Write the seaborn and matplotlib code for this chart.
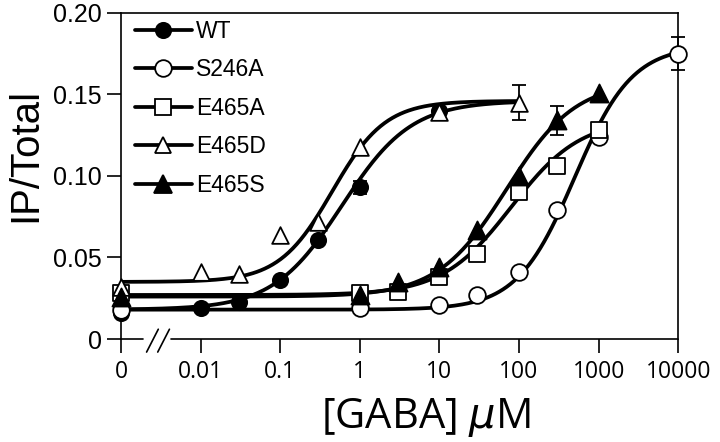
import numpy as np
import pandas as pd
import matplotlib
matplotlib.use("Agg")
import matplotlib.pyplot as plt
from matplotlib.lines import Line2D
import seaborn as sns

# concentration 0 is drawn at the 0.001 position (axis break)
ZERO_POS = 0.001

wt_x = [0, 0.01, 0.03, 0.1, 0.3, 1, 10]
wt_y = [0.016, 0.019, 0.023, 0.036, 0.061, 0.093, 0.140]
s246a_x = [0, 1, 10, 30, 100, 300, 1000, 10000]
s246a_y = [0.018, 0.019, 0.021, 0.027, 0.041, 0.079, 0.124, 0.175]
e465a_x = [0, 1, 3, 10, 30, 100, 300, 1000]
e465a_y = [0.028, 0.028, 0.029, 0.038, 0.052, 0.090, 0.106, 0.128]
e465d_x = [0, 0.01, 0.03, 0.1, 0.3, 1, 10, 100]
e465d_y = [0.032, 0.041, 0.040, 0.064, 0.072, 0.118, 0.139, 0.145]
e465s_x = [0, 1, 3, 10, 30, 100, 300, 1000]
e465s_y = [0.026, 0.027, 0.035, 0.044, 0.067, 0.100, 0.134, 0.151]

# error bars shown in the figure: (series, x, sem)
err_points = [("WT", 1, 0.004), ("E465D", 100, 0.0105),
              ("E465S", 300, 0.009), ("S246A", 10000, 0.010)]

# fitted Hill curves: bottom, top, EC50, slope
fit_params = {
    "WT": [0.018, 0.146, 0.6, 1.0],
    "S246A": [0.018, 0.180, 500, 1.2],
    "E465A": [0.027, 0.135, 80, 1.0],
    "E465D": [0.035, 0.146, 0.45, 1.3],
    "E465S": [0.026, 0.158, 70, 1.0],
}
# last concentration each fitted curve is drawn to
curve_end = {"WT": 100, "S246A": 10000, "E465A": 1000,
             "E465D": 100, "E465S": 1000}

names = ["WT", "S246A", "E465A", "E465D", "E465S"]
xs = [wt_x, s246a_x, e465a_x, e465d_x, e465s_x]
ys = [wt_y, s246a_y, e465a_y, e465d_y, e465s_y]
markers = {"WT": "o", "S246A": "o", "E465A": "s", "E465D": "^", "E465S": "^"}
faces = {"WT": "black", "S246A": "white", "E465A": "white",
         "E465D": "white", "E465S": "black"}
msize = {"WT": 11, "S246A": 12, "E465A": 11, "E465D": 12, "E465S": 13}

rows = []
for n, xv, yv in zip(names, xs, ys):
    for a, b in zip(xv, yv):
        rows.append({"mutant": n, "gaba": a if a > 0 else ZERO_POS, "ip": b})
df = pd.DataFrame(rows)

sns.set_style("ticks", {"axes.edgecolor": "black", "text.color": "black",
                        "axes.labelcolor": "black", "xtick.color": "black",
                        "ytick.color": "black"})
plt.rcParams["font.family"] = ["Liberation Sans", "DejaVu Sans"]

fig = plt.figure(figsize=(7.2, 4.42), dpi=100)
ax = fig.add_axes([0.168, 0.233, 0.774, 0.738])


def hill(x, p):
    b, t, ec, h = p
    return b + (t - b) * x ** h / (ec ** h + x ** h)


# fitted curves
for n in names:
    xx = np.logspace(np.log10(ZERO_POS), np.log10(curve_end[n]), 300)
    sns.lineplot(x=xx, y=hill(xx, fit_params[n]), ax=ax, color="black",
                 lw=2.7, zorder=2, legend=False)

# error bars
for n, xe, se in err_points:
    yv = df[(df.mutant == n) & (df.gaba == xe)].ip.values[0]
    ax.errorbar(xe, yv, yerr=se, fmt="none", ecolor="black", elinewidth=1.3,
                capsize=5, capthick=1.3, zorder=3, clip_on=False)

# markers
for n in names:
    sub = df[df.mutant == n]
    sns.scatterplot(data=sub, x="gaba", y="ip", ax=ax, marker=markers[n],
                    s=msize[n] ** 2, color=faces[n], edgecolor="black",
                    linewidth=1.3, zorder=4, clip_on=False, legend=False)

ax.set_xscale("log")
ax.set_xlim(ZERO_POS, 10000)
ax.set_ylim(0, 0.20)
tick_pos = [ZERO_POS, 0.01, 0.1, 1, 10, 100, 1000, 10000]
tick_lab = ["0", "0.01", "0.1", "1", "10", "100", "1000", "10000"]
ax.set_xticks(tick_pos)
ax.set_xticklabels(tick_lab, family=["Open Sans", "DejaVu Sans"],
                   fontsize=16.5)
ax.minorticks_off()
ax.set_yticks([0, 0.05, 0.10, 0.15, 0.20])
ax.set_yticklabels(["0", "0.05", "0.10", "0.15", "0.20"], fontsize=18)
ax.tick_params(direction="out", length=10, width=1.2, color="black",
               labelcolor="black")
ax.tick_params(axis="x", pad=5)
ax.tick_params(axis="y", pad=4)
for side in ["left", "right", "top"]:
    ax.spines[side].set_linewidth(1.2)

# broken x axis
ax.spines["bottom"].set_visible(False)
ax.plot([ZERO_POS, 0.0019], [0, 0], color="black", lw=1.2, clip_on=False,
        transform=ax.get_xaxis_transform())
ax.plot([0.0042, 10000], [0, 0], color="black", lw=1.2, clip_on=False,
        transform=ax.get_xaxis_transform())
for x0 in [0.046, 0.066]:
    ax.plot([x0, x0 + 0.021], [-0.04, 0.03], color="black", lw=1.2,
            clip_on=False, transform=ax.transAxes)

ax.set_xlabel("[GABA] $\\mu$M", fontsize=30,
              family=["Open Sans", "DejaVu Sans"])
ax.xaxis.set_label_coords(0.547, -0.175)
ax.xaxis.label.set_va("top")
ax.set_ylabel("IP/Total", fontsize=29)
ax.yaxis.set_label_coords(-0.138, 0.564)

handles = [Line2D([0], [0], color="black", lw=2.7, marker=markers[n],
                  markersize=msize[n], markerfacecolor=faces[n],
                  markeredgecolor="black", markeredgewidth=1.3)
           for n in names]
ax.legend(handles, names, loc="upper left", frameon=False, fontsize=16.5,
          handlelength=2.5, handletextpad=0.2, labelspacing=0.68,
          borderaxespad=0, borderpad=0.3, bbox_to_anchor=(0.012, 1.0))

fig.savefig("out.png", dpi=100)
